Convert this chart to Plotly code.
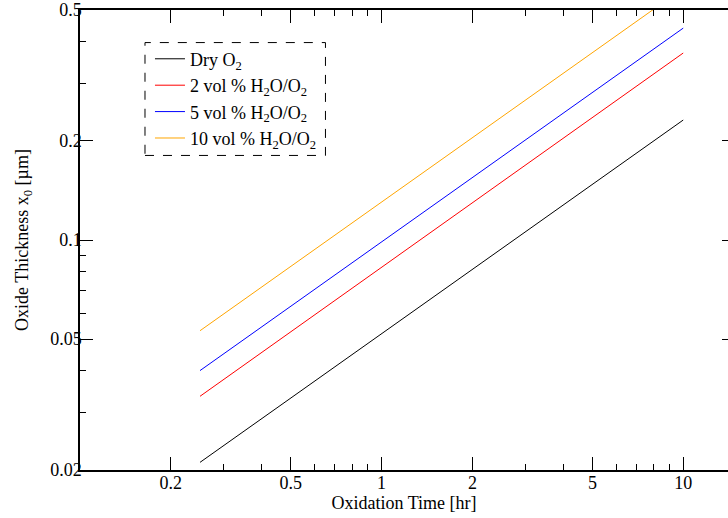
import plotly.graph_objects as go

# Data (oxidation time [hr] vs oxide thickness [um])
time_hr = [0.25, 10.0]
dry_o2 = [0.0211, 0.2315]
vol2_h2o = [0.0335, 0.370]
vol5_h2o = [0.0401, 0.4404]
vol10_h2o = [0.0530, 0.582]

series_names = ["Dry O<sub>2</sub>", "2 vol % H<sub>2</sub>O/O<sub>2</sub>",
                "5 vol % H<sub>2</sub>O/O<sub>2</sub>", "10 vol % H<sub>2</sub>O/O<sub>2</sub>"]
series_values = [dry_o2, vol2_h2o, vol5_h2o, vol10_h2o]
series_colors = ["#000000", "#ff0000", "#0000ff", "#ffa500"]

x_major = [0.2, 0.5, 1, 2, 5, 10]
x_major_text = ["0.2", "0.5", "1", "2", "5", "10"]
x_minor = [0.3, 0.4, 0.6, 0.7, 0.8, 0.9, 3, 4, 6, 7, 8, 9]
y_major = [0.02, 0.05, 0.1, 0.2, 0.5]
y_major_text = ["0.02", "0.05", "0.1", "0.2", "0.5"]
y_minor = [0.03, 0.04, 0.06, 0.07, 0.08, 0.09, 0.3, 0.4]

FONT = "Liberation Serif, Times New Roman, serif"
Y_RANGE = [-1.69897, -0.30103]

fig = go.Figure()
for name, vals, col in zip(series_names, series_values, series_colors):
    fig.add_trace(go.Scatter(x=time_hr, y=vals, mode="lines", name=name,
                             line=dict(color=col, width=1)))

axis_common = dict(
    type="log", showgrid=False, zeroline=False,
    showline=True, linecolor="black", linewidth=1.5,
    ticks="inside", ticklen=13, tickwidth=1.2, tickcolor="black",
    tickfont=dict(family=FONT, size=18, color="black"),
)

fig.update_xaxes(
    **axis_common,
    mirror="ticks",
    range=[-1, 1.1485],
    tickmode="array", tickvals=x_major, ticktext=x_major_text,
    minor=dict(tickmode="array", tickvals=x_minor, ticks="inside",
               ticklen=6, tickwidth=1, tickcolor="black", showgrid=False),
    ticklabelstandoff=-4,
    title=dict(text="Oxidation Time [hr]", font=dict(family=FONT, size=18, color="black"),
               standoff=2),
)
fig.update_yaxes(
    **axis_common,
    mirror=False,
    range=Y_RANGE,
    tickmode="array", tickvals=y_major, ticktext=y_major_text,
    minor=dict(tickmode="array", tickvals=y_minor, ticks="inside",
               ticklen=6, tickwidth=1, tickcolor="black", showgrid=False),
    ticklabelstandoff=-7,
    title=dict(text="Oxide Thickness x<sub>0</sub> [µm]",
               font=dict(family=FONT, size=18, color="black"), standoff=17),
)

# right-hand frame lies just beyond the visible window; only tick ends show
fig.update_layout(yaxis2=dict(
    overlaying="y", side="right", type="log", range=Y_RANGE,
    showgrid=False, zeroline=False, showline=False,
    tickmode="array", tickvals=y_major, ticktext=[""] * len(y_major),
    ticks="inside", ticklen=6, tickwidth=1.2, tickcolor="black",
    showticklabels=False,
))
fig.add_trace(go.Scatter(x=[time_hr[0]], y=[dry_o2[0]], yaxis="y2", mode="lines",
                         showlegend=False, hoverinfo="skip",
                         line=dict(color="rgba(0,0,0,0)", width=0)))

fig.add_shape(type="rect", xref="paper", yref="paper",
              x0=0.1003, x1=0.3788, y0=0.6838, y1=0.9292,
              line=dict(color="black", width=1, dash="dash"), fillcolor="white",
              layer="below")

fig.update_layout(
    width=728, height=518,
    margin=dict(l=80, r=0, t=10, b=48),
    paper_bgcolor="white", plot_bgcolor="white",
    font=dict(family=FONT, size=18, color="black"),
    showlegend=True,
    legend=dict(x=0.108, y=0.9335, xanchor="left", yanchor="top",
                bgcolor="rgba(0,0,0,0)", borderwidth=0,
                font=dict(family=FONT, size=18, color="black"),
                itemwidth=30, tracegroupgap=0),
)

fig.write_html("out.html", config={"displayModeBar": False},
               post_script="document.body.style.margin='0';")
